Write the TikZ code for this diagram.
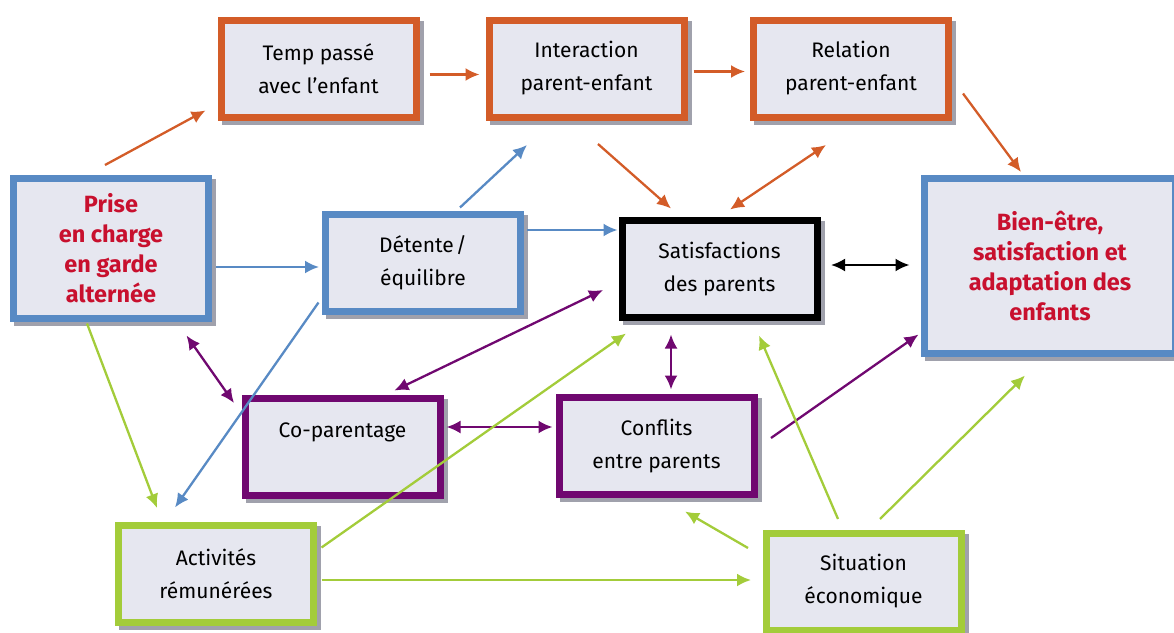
\documentclass[tikz,border=0pt]{standalone}
\usepackage{fontspec}
\setmainfont{Fira Sans}
\usetikzlibrary{arrows.meta}
\definecolor{orangeb}{RGB}{211,92,40}
\definecolor{blueb}{RGB}{88,138,196}
\definecolor{purpleb}{RGB}{112,8,112}
\definecolor{greenb}{RGB}{163,204,58}
\definecolor{boxfill}{RGB}{230,231,240}
\definecolor{shadowc}{RGB}{160,161,172}
\definecolor{redtext}{RGB}{200,16,46}

\begin{document}
\begin{tikzpicture}[x=1pt, y=-1pt,
    box/.style={draw, fill=boxfill, line width=7pt, align=center,
      minimum width=195pt, minimum height=97pt, inner sep=0pt,
      font=\fontsize{21}{33}\selectfont,
      preaction={draw=shadowc, fill=shadowc, transform canvas={xshift=4pt, yshift=-4pt}}},
    keybox/.style={box, text=redtext, font=\fontsize{23.5}{30}\selectfont\bfseries},
    arr/.style={line width=2.3pt, -{Latex[length=14pt, width=13pt]}},
    darr/.style={line width=2.3pt, {Latex[length=14pt, width=13pt]}-{Latex[length=14pt, width=13pt]}}]
    \useasboundingbox (0,0) rectangle (1174,632);
    % boxes
    \node[box, draw=orangeb] (temp) at (318.5, 68.5) {Temp passé\\avec l'enfant};
    \node[box, draw=orangeb] (inter) at (586.5, 68.5) {Interaction\\parent-enfant};
    \node[box, draw=orangeb] (rel) at (851, 68.5) {Relation\\parent-enfant};
    \node[keybox, draw=blueb, minimum height=140pt] (prise) at (111, 248.5) {Prise\\en charge\\en garde\\alternée};
    \node[box, draw=blueb] (det) at (423, 263) {Détente\kern2pt/\\équilibre};
    \node[box, draw=black] (sat) at (719.5, 269) {Satisfactions\\des parents};
    \node[keybox, draw=blueb, minimum width=251pt, minimum height=175pt] (bien) at (1050, 266) {Bien-être,\\satisfaction et\\adaptation des\\enfants};
    \node[box, draw=purpleb] (cop) at (342.5, 446.5) {Co-parentage\\\mbox{}};
    \node[box, draw=purpleb] (conf) at (656.5, 446) {Conflits\\entre parents};
    \node[box, draw=greenb] (act) at (216, 573.5) {Activités\\rémunérées};
    \node[box, draw=greenb] (sit) at (863.5, 581.5) {Situation\\économique};
    % orange links
    \draw[arr, orangeb] ([shift={(-6,-10)}]prise.north) -- ([shift={(-12,-10)}]temp.south west);
    \draw[arr, orangeb] ([shift={(10,6)}]temp.east) -- ([shift={(-6,6)}]inter.west);
    \draw[arr, orangeb] ([shift={(6,3)}]inter.east) -- ([shift={(-5,3)}]rel.west);
    \draw[arr, orangeb] ([shift={(11,25)}]rel.east) -- ([shift={(100,-3)}]bien.north west);
    \draw[arr, orangeb] ([shift={(11.5,23.5)}]inter.south) -- ([shift={(-48.5,-8.5)}]sat.north);
    \draw[darr, orangeb] ([shift={(10.5,-7.5)}]sat.north) -- ([shift={(-25,24.5)}]rel.south);
    % blue links
    \draw[arr, blueb] ([shift={(4,18.5)}]prise.east) -- ([shift={(-3,4)}]det.west);
    \draw[arr, blueb] ([shift={(37,-3.5)}]det.north) -- ([shift={(41.5,24.5)}]inter.south west);
    \draw[arr, blueb] ([shift={(3,-33)}]det.east) -- ([shift={(-1,-39)}]sat.west);
    \draw[arr, blueb] ([shift={(-3.5,-12.5)}]det.south west) -- ([shift={(-41,-14)}]act.north);
    % purple links
    \draw[darr, purpleb] ([shift={(-25.5,13.5)}]prise.south east) -- ([shift={(-7.5,8.5)}]cop.north west);
    \draw[darr, purpleb] ([shift={(-15.5,21)}]sat.west) -- ([shift={(52,-4)}]cop.north);
    \draw[darr, purpleb] ([shift={(3,-19.5)}]cop.east) -- ([shift={(-3,-19)}]conf.west);
    \draw[darr, purpleb] ([shift={(-48.5,13.5)}]sat.south) -- ([shift={(14.5,-4.5)}]conf.north);
    \draw[arr, purpleb] ([shift={(13.5,-8)}]conf.east) -- ([shift={(-2.5,-22.5)}]bien.south west);
    % black link
    \draw[darr, black] ([shift={(10.5,-4)}]sat.east) -- ([shift={(-11.5,-1)}]bien.west);
    % green links
    \draw[arr, greenb] ([shift={(-24,1.5)}]prise.south) -- ([shift={(-59,-13.5)}]act.north);
    \draw[arr, greenb] ([shift={(4.5,-26)}]act.east) -- ([shift={(7.5,12.5)}]sat.south west);
    \draw[arr, greenb] ([shift={(4.5,6.5)}]act.east) -- ([shift={(-11.5,-1.5)}]sit.west);
    \draw[arr, greenb] ([shift={(-14.5,-33.5)}]sit.west) -- ([shift={(28.5,13.5)}]conf.south);
    \draw[arr, greenb] ([shift={(-25.5,-10.5)}]sit.north) -- ([shift={(-61.5,14.5)}]sat.south east);
    \draw[arr, greenb] ([shift={(16.5,-10.5)}]sit.north) -- ([shift={(-25,18.5)}]bien.south);
\end{tikzpicture}
\end{document}
